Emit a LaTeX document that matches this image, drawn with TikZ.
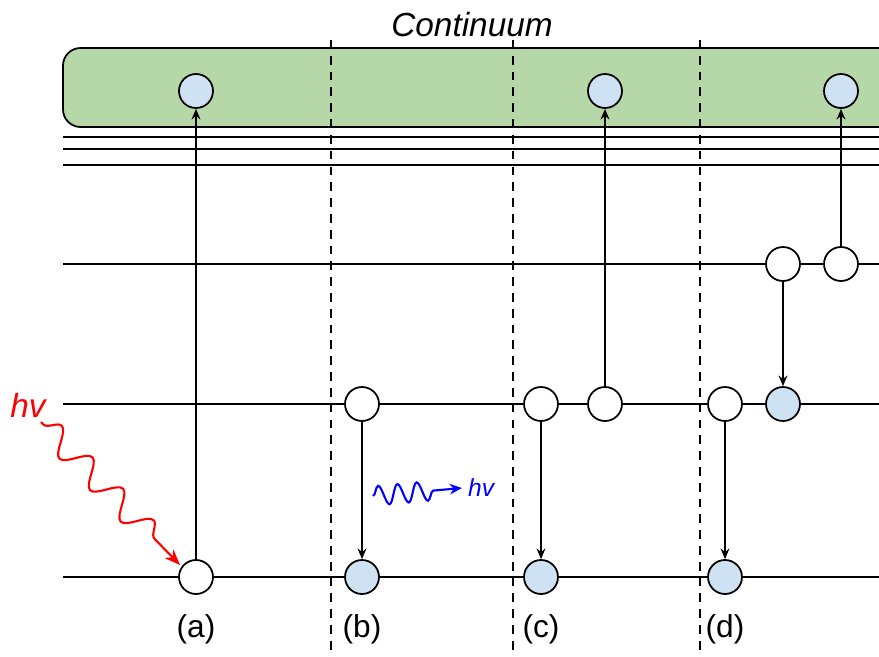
\documentclass[tikz,border=0pt]{standalone}
\usepackage{fontspec}
\setmainfont{Liberation Sans}
\usetikzlibrary{arrows.meta,decorations.pathmorphing}

\definecolor{contgreen}{HTML}{B6D7A8}
\definecolor{elblue}{HTML}{CFE2F3}

\tikzset{
  level/.style={line width=1pt},
  hole/.style={circle, draw, line width=1pt, fill=white, minimum size=0.68cm, inner sep=0pt},
  elec/.style={hole, fill=elblue},
  trans/.style={line width=1pt, -{Stealth[length=6pt,width=5pt]}},
  divider/.style={line width=1pt, dashed, dash pattern=on 5pt off 4pt},
  photon/.style={line width=1.2pt, decorate, decoration={snake, amplitude=#1}},
}

\begin{document}
\begin{tikzpicture}[x=0.02cm, y=-0.02cm]

  \clip (0,0) rectangle (879,656);

  % continuum band
  \draw [line width=1pt, fill=contgreen, rounded corners=10pt] (63,48) rectangle (920,127);
  \node (cont) at (472,25) {\fontsize{19}{21}\selectfont\itshape Continuum};

  % energy levels
  \coordinate (L1) at (63,137);
  \coordinate (L2) at (63,149);
  \coordinate (L3) at (63,165);
  \coordinate (E2) at (63,264);
  \coordinate (E1) at (63,404);
  \coordinate (E0) at (63,577);

  \foreach \lv in {L1,L2,L3,E2,E1,E0}
    \draw [level] (\lv) -- (\lv -| 879,0);

  % dividers
  \foreach \xd in {331,513,700}
    \draw [divider] (\xd,40) -- (\xd,656);

  % (a)
  \node [hole] (a0) at (196,577) {};
  \node [elec] (aC) at (196,91) {};
  \draw [trans] (a0) -- (aC);

  % (b)
  \node [hole] (b1) at (362,404) {};
  \node [elec] (b0) at (362,577) {};
  \draw [trans] (b1) -- (b0);

  % (c)
  \node [hole] (c1) at (541,404) {};
  \node [hole] (c1r) at (605,404) {};
  \node [elec] (c0) at (541,577) {};
  \node [elec] (cC) at (605,91) {};
  \draw [trans] (c1) -- (c0);
  \draw [trans] (c1r) -- (cC);

  % (d)
  \node [hole] (d1) at (725,404) {};
  \node [elec] (d1r) at (783,404) {};
  \node [elec] (d0) at (725,577) {};
  \node [hole] (d2) at (783,264) {};
  \node [hole] (d2r) at (841,264) {};
  \node [elec] (dC) at (841,91) {};
  \draw [trans] (d1) -- (d0);
  \draw [trans] (d2) -- (d1r);
  \draw [trans] (d2r) -- (dC);

  % labels
  \node (la) at (196,629) {\fontsize{18}{20}\selectfont (a)};
  \node (lb) at (362,629) {\fontsize{18}{20}\selectfont (b)};
  \node (lc) at (541,629) {\fontsize{18}{20}\selectfont (c)};
  \node (ld) at (725,629) {\fontsize{18}{20}\selectfont (d)};

  % absorbed photon
  \node [red] (hvin) at (28,405) {\fontsize{19}{21}\selectfont\itshape hv};
  \coordinate (win) at (41,422);
  \coordinate (wina) at (180,565);
  \draw [red, photon=7pt, decoration={segment length=25pt, pre length=2pt, post length=12pt}, -{Stealth[length=9pt,width=7pt]}] (win) -- (wina);

  % emitted photon
  \coordinate (wout) at (373,496);
  \coordinate (wend) at (462,488);
  \draw [blue, photon=5.5pt, decoration={segment length=11pt, post length=16pt}, -{Stealth[length=7pt,width=6pt]}] (wout) -- (wend);
  \node [blue, anchor=west] (hvout) at (wend) {\fontsize{14}{16}\selectfont\itshape hv};

\end{tikzpicture}
\end{document}
